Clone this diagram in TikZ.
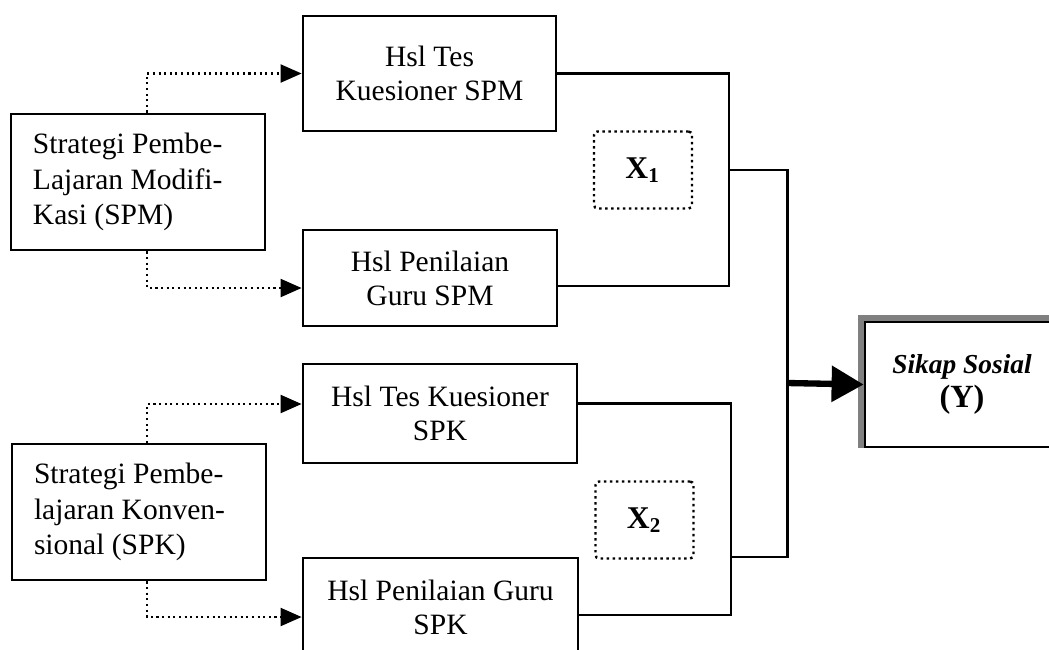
\documentclass[tikz,border=0pt]{standalone}
\usepackage{fontspec}
\setmainfont{Liberation Serif}
\usetikzlibrary{arrows.meta,positioning}
\tikzset{
  wire/.style      = {line width=0.7pt},
  strategi/.style  = {draw, line width=0.8pt, align=flush left, text width=2.1cm,
                      inner xsep=0.22cm, minimum height=1.36cm,
                      font=\fontsize{8.4}{10.2}\selectfont},
  hasil/.style     = {draw, line width=0.8pt, align=center, inner sep=0pt,
                      font=\fontsize{8.4}{9.7}\selectfont},
  varbox/.style    = {draw, densely dotted, line width=0.7pt, rounded corners=1pt,
                      inner sep=0pt, minimum width=0.98cm, minimum height=0.77cm,
                      font=\bfseries\fontsize{9}{10}\selectfont},
  dotarrow/.style  = {densely dotted, line width=0.6pt,
                      -{Triangle[length=2.1mm,width=1.8mm]}},
  bigarrow/.style  = {line width=1.8pt, -{Triangle[length=3.2mm,width=3.5mm]}},
}

\begin{document}
\begin{tikzpicture}

  \useasboundingbox (0,0) rectangle (10.49,-6.49);
  \clip (0,0) rectangle (10.49,-6.49);

  % ---- the two strategies ------------------------------------------------
  \node[strategi, minimum width=2.54cm] (spm) at (1.38,-1.82)
       {Strategi Pembe-\\Lajaran Modifi-\\Kasi (SPM)};
  \node[strategi, minimum width=2.54cm] (spk) at (1.39,-5.12)
       {Strategi Pembe-\\lajaran Konven-\\sional (SPK)};

  % ---- results of each strategy ------------------------------------------
  \node[hasil, minimum width=2.53cm, minimum height=1.15cm] (tesspm)  at (4.295,-0.735)
       {Hsl Tes\\Kuesioner SPM};
  \node[hasil, minimum width=2.54cm, minimum height=0.96cm] (guruspm) at (4.30,-2.78)
       {Hsl Penilaian\\Guru SPM};
  \node[hasil, minimum width=2.74cm, minimum height=0.99cm] (tesspk)  at (4.40,-4.135)
       {Hsl Tes Kuesioner\\SPK};
  \node[hasil, minimum width=2.75cm, minimum height=0.99cm] (guruspk) at (4.405,-6.075)
       {Hsl Penilaian Guru\\SPK};

  % ---- X1 and X2 ---------------------------------------------------------
  \node[varbox] (xone) at (6.43,-1.70)  {X\textsubscript{1}};
  \node[varbox] (xtwo) at (6.445,-5.20) {X\textsubscript{2}};

  % ---- outcome Y ---------------------------------------------------------
  \node[draw, line width=0.8pt, align=center, inner sep=0pt,
        minimum width=1.94cm, minimum height=1.25cm,
        font=\bfseries\fontsize{7.8}{9.9}\selectfont] (sikap) at (9.62,-3.845)
       {\textit{Sikap Sosial}\\{\fontsize{9.2}{9.9}\selectfont (Y)}};
  \fill[black!50] ([xshift=-0.06cm]sikap.south west) rectangle (sikap.north west);
  \fill[black!50] ([xshift=-0.06cm]sikap.north west) rectangle ([yshift=0.06cm]sikap.north east);

  % ---- dotted arrows from the strategies ---------------------------------
  \draw[dotarrow] ([xshift=0.09cm]spm.north) |- (tesspm.west);
  \draw[dotarrow] ([xshift=0.09cm]spm.south) |- ([yshift=-0.10cm]guruspm.west);
  \draw[dotarrow] ([xshift=0.08cm]spk.north) |- ([yshift=0.095cm]tesspk.west);
  \draw[dotarrow] ([xshift=0.08cm]spk.south) |- ([yshift=-0.095cm]guruspk.west);

  % ---- brackets joining the results --------------------------------------
  \coordinate (mone) at (7.29,-1.70);
  \coordinate (mtwo) at (7.31,-5.57);
  \coordinate (hub)  at (7.875,-3.83);
  \draw[wire] (tesspm.east) -| (mone) |- ([yshift=-0.08cm]guruspm.east);
  \draw[wire] ([yshift=0.10cm]tesspk.east) -| (mtwo) |- ([yshift=-0.075cm]guruspk.east);
  \draw[wire] (mone) -| (hub);
  \draw[wire] (mtwo) -| (hub);
  \draw[bigarrow] (hub) -- (sikap.west);
\end{tikzpicture}
\end{document}
